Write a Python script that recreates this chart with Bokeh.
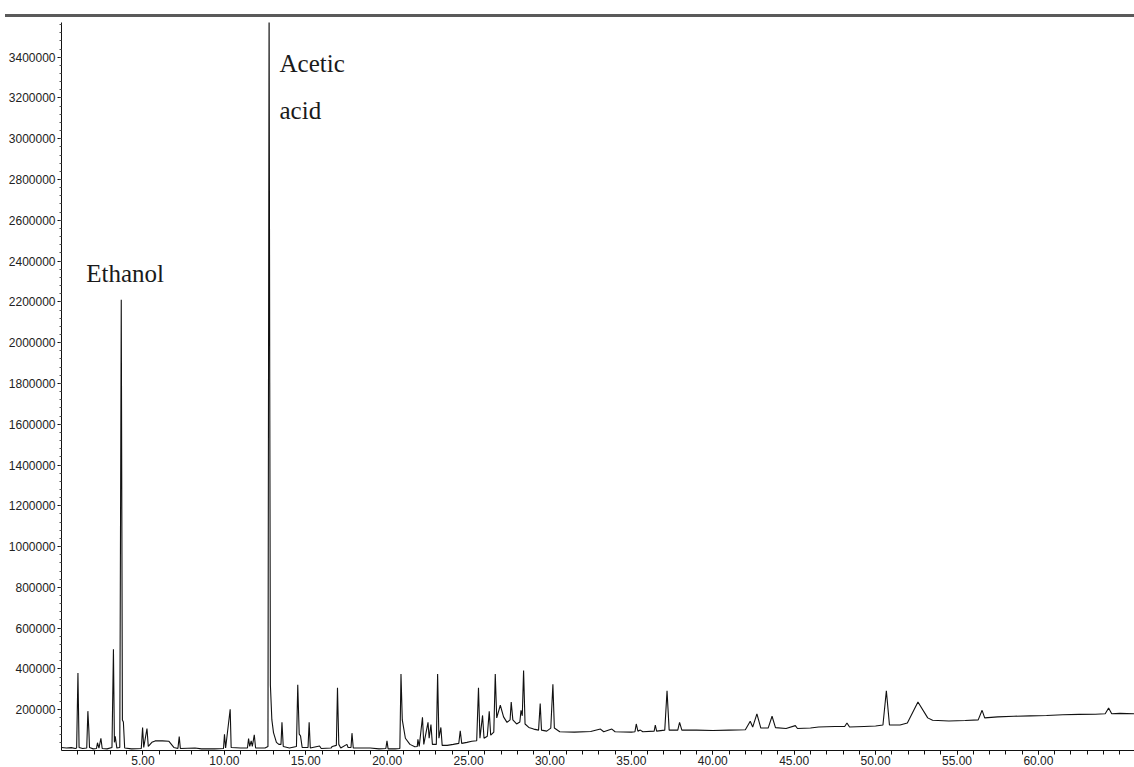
from bokeh.plotting import figure
from bokeh.models import ColumnDataSource, FixedTicker, PrintfTickFormatter, Div, Range1d
from bokeh.layouts import column
from bokeh.embed import file_html
from bokeh.resources import INLINE
from bokeh.core.properties import value

# ---- chromatogram trace (retention time in min, abundance) ----
time_min = [
    0.00, 0.30, 0.60, 0.85, 0.93, 1.01, 1.08, 1.30,
    1.55, 1.62, 1.68, 1.72, 1.95,
    2.15, 2.21, 2.30, 2.42, 2.50, 2.80,
    3.10, 3.19, 3.25, 3.30, 3.40,
    3.58, 3.67, 3.74, 3.80, 3.88, 4.30,
    4.90, 4.98, 5.05, 5.25, 5.33,
    5.55, 5.75, 6.20, 6.60, 6.90,
    7.15, 7.23, 7.30, 8.20, 8.60, 9.40,
    9.95, 10.01, 10.08, 10.36, 10.42, 11.00,
    11.42, 11.49, 11.56, 11.65, 11.72, 11.84, 11.92, 12.50,
    12.68, 12.75, 12.79, 12.83, 12.92, 13.02, 13.20, 13.35,
    13.48, 13.54, 13.62, 14.00,
    14.43, 14.51, 14.60, 14.68, 14.78,
    15.14, 15.21, 15.28, 15.85, 15.95,
    16.55, 16.63, 16.88, 16.95, 17.03, 17.15,
    17.53, 17.60, 17.78, 17.84, 17.92,
    18.96, 19.50, 19.92, 19.99, 20.06,
    20.50, 20.78, 20.85, 20.93, 21.12, 21.40, 21.70, 21.85,
    21.89, 21.97, 22.17, 22.25, 22.51, 22.58, 22.69, 22.78, 23.02, 23.10, 23.18, 23.30, 23.38,
    23.69, 24.06, 24.40, 24.49, 24.58,
    24.90, 25.20, 25.50,
    25.61, 25.70, 25.86, 25.95, 26.15, 26.27, 26.36, 26.55, 26.64, 26.73, 26.95, 27.15,
    27.36, 27.55, 27.62, 27.72, 27.95, 28.15, 28.22, 28.30, 28.38, 28.47, 28.70, 29.00,
    29.30, 29.40, 29.48, 29.80, 30.05, 30.18, 30.27, 30.60,
    31.50, 32.50, 33.10, 33.30, 33.80, 34.00, 35.00,
    35.22, 35.30, 35.40, 35.55, 35.70,
    36.40, 36.47, 36.55,
    37.05, 37.19, 37.32,
    37.85, 37.96, 38.10,
    39.00, 40.00, 41.00, 42.00,
    42.30, 42.45, 42.71, 42.95, 43.40, 43.64, 43.85,
    44.50, 45.07, 45.20, 46.00, 46.50, 47.50, 48.10, 48.24, 48.40, 49.30, 50.00,
    50.45, 50.66, 50.85,
    51.50, 51.95, 52.60, 53.20, 53.50, 54.50, 55.50, 56.30,
    56.54, 56.70, 57.50, 58.50, 59.50, 60.50, 61.50, 62.50, 63.50, 64.10,
    64.31, 64.50, 65.00, 65.90,
]
abundance = [
    15000, 12000, 14000, 10000, 12000, 380000, 15000, 10000,
    12000, 193000, 100000, 15000, 8000,
    10000, 38000, 12000, 60000, 10000, 8000,
    15000, 497000, 40000, 70000, 12000,
    15000, 2210000, 150000, 140000, 12000, 8000,
    10000, 113000, 15000, 108000, 20000,
    40000, 47000, 47000, 45000, 15000,
    10000, 68000, 10000, 12000, 8000, 8000,
    10000, 80000, 12000, 202000, 15000, 12000,
    12000, 58000, 20000, 47000, 20000, 77000, 12000, 12000,
    20000, 3700000, 1800000, 320000, 150000, 88000, 40000, 30000,
    30000, 138000, 20000, 12000,
    20000, 322000, 80000, 72000, 15000,
    15000, 138000, 12000, 22000, 10000,
    12000, 20000, 25000, 308000, 30000, 12000,
    30000, 15000, 15000, 85000, 12000,
    12000, 8000, 10000, 47000, 8000,
    8000, 10000, 375000, 150000, 60000, 30000, 18000, 20000,
    55000, 20000, 163000, 30000, 138000, 60000, 127000, 30000, 30000, 375000, 60000, 113000, 25000,
    25000, 30000, 35000, 97000, 35000,
    40000, 45000, 48000,
    308000, 60000, 172000, 60000, 70000, 192000, 75000, 90000, 375000, 160000, 222000, 165000,
    138000, 150000, 238000, 150000, 130000, 140000, 197000, 170000, 392000, 130000, 113000, 105000,
    100000, 230000, 100000, 95000, 110000, 325000, 110000, 92000,
    90000, 93000, 105000, 92000, 105000, 92000, 90000,
    92000, 130000, 95000, 100000, 92000,
    95000, 125000, 95000,
    100000, 293000, 100000,
    100000, 138000, 100000,
    100000, 98000, 100000, 102000,
    143000, 115000, 180000, 110000, 110000, 168000, 112000,
    108000, 122000, 108000, 110000, 115000, 118000, 118000, 135000, 115000, 118000, 120000,
    125000, 293000, 125000,
    125000, 135000, 238000, 160000, 148000, 145000, 147000, 150000,
    197000, 160000, 165000, 168000, 170000, 172000, 175000, 177000, 178000, 180000,
    208000, 180000, 182000, 180000,
]

# ---- axis ticks ----
x_major_ticks = [5, 10, 15, 20, 25, 30, 35, 40, 45, 50, 55, 60]
x_minor_ticks = list(range(1, 66))
y_major_ticks = [200000, 400000, 600000, 800000, 1000000, 1200000, 1400000, 1600000,
                 1800000, 2000000, 2200000, 2400000, 2600000, 2800000, 3000000,
                 3200000, 3400000]
y_minor_ticks = [k * 40000 for k in range(1, 90)]

# ---- peak annotations ----
peak_names = ["Ethanol", "Acetic", "acid"]
label_time = [1.52, 13.39, 13.39]
label_level = [2339000, 3368000, 3139000]

AXIS_FONT = "Liberation Sans"

p = figure(width=1134, height=745, output_backend="svg", toolbar_location=None,
           x_range=Range1d(0, 65.9), y_range=Range1d(0, 3570000),
           min_border_left=61, min_border_right=0, min_border_top=0, min_border_bottom=8)
p.grid.visible = False
p.outline_line_color = None
p.background_fill_color = "white"
p.border_fill_color = "white"

p.line(time_min, abundance, line_color="#111111", line_width=1.1)

lab_src = ColumnDataSource(dict(x=label_time, y=label_level, text=peak_names))
p.text(x="x", y="y", text="text", source=lab_src, text_font=value("Liberation Serif"),
       text_font_size="25px", text_color="#1a1a1a", text_align="left",
       text_baseline="alphabetic")

xa = p.xaxis[0]
xa.ticker = FixedTicker(ticks=x_major_ticks, minor_ticks=x_minor_ticks)
xa.formatter = PrintfTickFormatter(format="%.2f")
xa.major_tick_out = 4
xa.major_tick_in = 0
xa.minor_tick_out = 4
xa.minor_tick_in = 0
xa.major_label_standoff = 1
xa.axis_line_color = "#111111"
xa.major_tick_line_color = "#111111"
xa.minor_tick_line_color = "#111111"
xa.major_label_text_font = AXIS_FONT
xa.major_label_text_font_size = "12px"
xa.major_label_text_color = "#222222"

ya = p.yaxis[0]
ya.ticker = FixedTicker(ticks=y_major_ticks, minor_ticks=y_minor_ticks)
ya.formatter = PrintfTickFormatter(format="%d")
ya.major_tick_out = 4
ya.major_tick_in = 0
ya.minor_tick_out = 2
ya.minor_tick_in = 0
ya.major_label_standoff = 2
ya.axis_line_color = "#111111"
ya.major_tick_line_color = "#111111"
ya.minor_tick_line_color = "#555555"
ya.major_label_text_font = AXIS_FONT
ya.major_label_text_font_size = "12px"
ya.major_label_text_color = "#222222"

top_rule = Div(text="", width=1134, height=12,
               styles={"border-bottom": "3px solid #5a5a5a"})

layout = column(top_rule, p, spacing=0)

open("out.html", "w").write(file_html(layout, INLINE))
